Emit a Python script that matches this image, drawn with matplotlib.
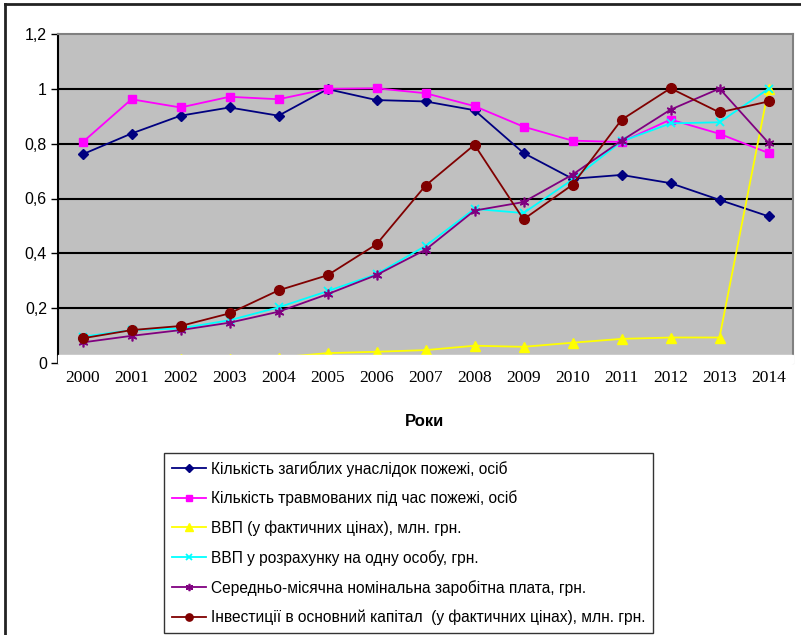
import matplotlib.pyplot as plt
from matplotlib.lines import Line2D

years = ['2000', '2001', '2002', '2003', '2004', '2005', '2006', '2007',
         '2008', '2009', '2010', '2011', '2012', '2013', '2014']

killed = [0.761, 0.837, 0.902, 0.932, 0.902, 0.999, 0.959, 0.954,
          0.922, 0.766, 0.672, 0.686, 0.656, 0.595, 0.535]
injured = [0.805, 0.962, 0.932, 0.971, 0.962, 1.0, 1.002, 0.984,
           0.937, 0.862, 0.811, 0.806, 0.888, 0.836, 0.766]
gdp = [0.008, 0.011, 0.013, 0.016, 0.02, 0.036, 0.041, 0.047,
       0.063, 0.059, 0.074, 0.088, 0.093, 0.093, 1.0]
gdp_per_capita = [0.096, 0.12, 0.126, 0.156, 0.203, 0.262, 0.324, 0.427,
                  0.562, 0.547, 0.669, 0.808, 0.874, 0.878, 1.0]
salary = [0.075, 0.099, 0.12, 0.147, 0.187, 0.251, 0.321, 0.413,
          0.556, 0.587, 0.687, 0.811, 0.924, 1.001, 0.803]
investment = [0.09, 0.12, 0.135, 0.181, 0.265, 0.32, 0.433, 0.647,
              0.796, 0.524, 0.65, 0.887, 1.002, 0.914, 0.954]

labels = ['Кількість загиблих унаслідок пожежі, осіб',
          'Кількість травмованих під час пожежі, осіб',
          'ВВП (у фактичних цінах), млн. грн.',
          'ВВП у розрахунку на одну особу, грн.',
          'Середньо-місячна номінальна заробітна плата, грн.',
          'Інвестиції в основний капітал  (у фактичних цінах), млн. грн.']

W, H = 801, 635
fig = plt.figure(figsize=(W / 100, H / 100), dpi=100)
ax = fig.add_axes([58 / W, (H - 363) / H, (793 - 58) / W, (363 - 34) / H])
ax.set_facecolor('#C0C0C0')

x = list(range(len(years)))
series = [
    (killed, '#000080', 'D', 5.5, dict()),
    (injured, '#FF00FF', 's', 6, dict()),
    (gdp, '#FFFF00', '^', 7, dict()),
    (gdp_per_capita, '#00FFFF', 'x', 6, dict(markeredgewidth=1.3)),
    (salary, '#800080', (6, 2, 0), 7, dict(markeredgewidth=1.2)),
    (investment, '#800000', 'o', 7, dict()),
]
handles = []
for (vals, col, mk, ms, kw), lab in zip(series, labels):
    ax.plot(x, vals, color=col, marker=mk, markersize=ms, linewidth=1.3,
            zorder=3, **kw)
    handles.append(Line2D([], [], color=col, marker=mk, markersize=ms * 0.75,
                          linewidth=1.3, label=lab, **kw))

ax.set_xlim(-0.5, 14.5)
ax.set_ylim(0, 1.2)
ax.set_yticks([0, 0.2, 0.4, 0.6, 0.8, 1.0, 1.2])
ax.set_yticklabels(['0', '0,2', '0,4', '0,6', '0,8', '1', '1,2'],
                   fontfamily='Liberation Sans', fontsize=11.5)
ax.set_xticks(x)
ax.set_xticklabels(years, fontfamily='Liberation Serif', fontsize=12.5)
ax.tick_params(axis='x', length=0, pad=5)
ax.tick_params(axis='y', length=5, width=1, pad=3)

for yv in [0.2, 0.4, 0.6, 0.8, 1.0]:
    ax.axhline(yv, color='#000000', linewidth=1.5, zorder=1)

ax.spines['left'].set_linewidth(1.5)
ax.spines['bottom'].set_visible(False)
ax.spines['top'].set_color('#808080')
ax.spines['right'].set_color('#808080')
ax.spines['top'].set_linewidth(1.5)
ax.spines['right'].set_linewidth(1.5)

# white strip over the bottom of the plot area
ax.axhspan(0, 0.029, color='white', zorder=4, clip_on=False)

fig.text(425 / W, 1 - 421 / H, 'Роки', ha='center', va='center',
         fontfamily='Liberation Sans', fontweight='bold', fontsize=12)

leg = fig.legend(handles=handles, loc='upper left',
                 bbox_to_anchor=(164 / W, 1 - 453 / H),
                 prop={'family': 'Liberation Sans', 'size': 11.2},
                 frameon=True, fancybox=False, edgecolor='black',
                 handlelength=2.2, handletextpad=0.3, labelspacing=0.9,
                 borderpad=0.5, borderaxespad=0)
leg.get_frame().set_linewidth(1.0)

# outer frame
fig.add_artist(Line2D([5 / W, 5 / W], [0, 1 - 4 / H], color='#222222',
                      linewidth=2, transform=fig.transFigure))
fig.add_artist(Line2D([5 / W, 1], [1 - 4 / H, 1 - 4 / H], color='#222222',
                      linewidth=2, transform=fig.transFigure))

fig.savefig('out.png', dpi=100)
